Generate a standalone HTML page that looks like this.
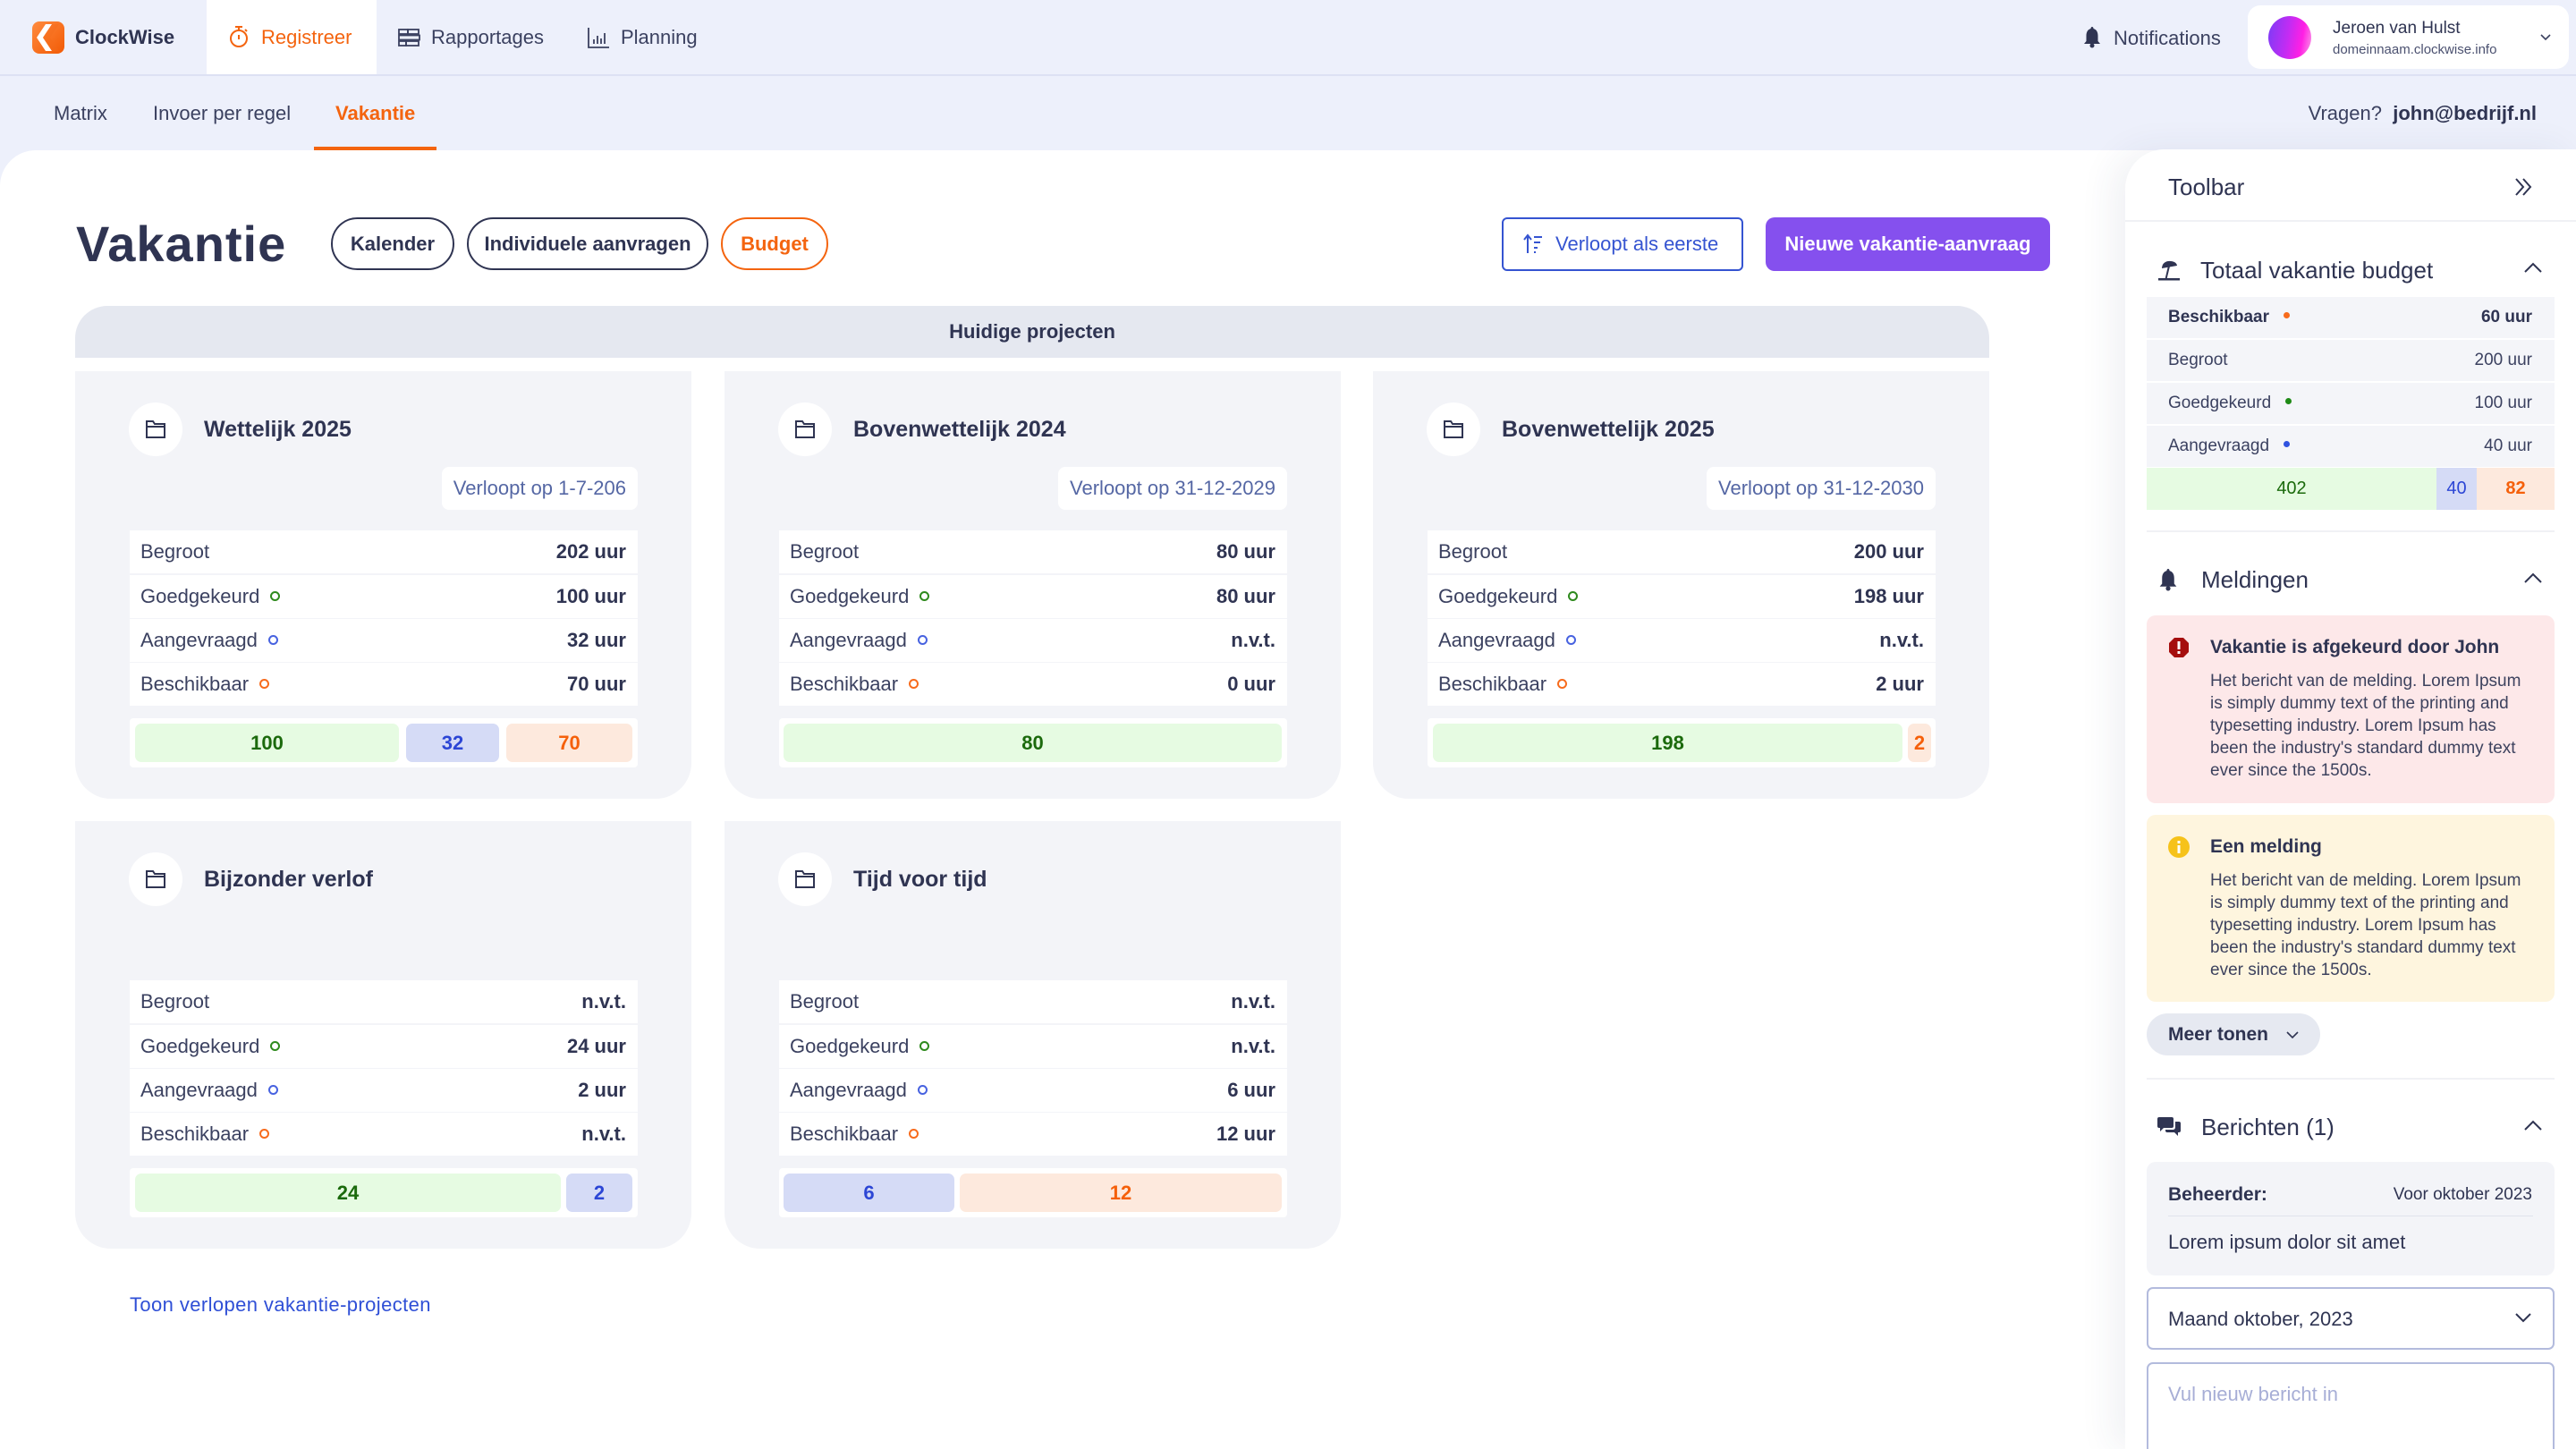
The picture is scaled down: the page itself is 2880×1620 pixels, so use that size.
<!DOCTYPE html>
<html><head><meta charset="utf-8"><style>
*{margin:0;padding:0;box-sizing:border-box}
html,body{width:2880px;height:1620px;overflow:hidden}
body{background:#edf0fb;font-family:"Liberation Sans",Arial,sans-serif;color:#2f3452;position:relative}
.a{position:absolute;white-space:nowrap}
.card{position:absolute;width:689px;height:478px;background:#f3f4f8;border-radius:0 0 40px 40px}
.circ{position:absolute;left:60px;top:35px;width:60px;height:60px;border-radius:50%;background:#fff}
.circ svg{position:absolute;left:18px;top:19px}
.ct{position:absolute;left:144px;top:48px;height:34px;line-height:34px;font-size:25px;font-weight:bold;color:#2f3452;white-space:nowrap}
.badge{position:absolute;right:60px;top:107px;height:48px;line-height:48px;padding:0 13px;background:#fff;border-radius:8px;font-size:22px;color:#5567a4;white-space:nowrap}
.r{position:absolute;left:61px;width:568px;height:48px;line-height:48px;background:#fff;padding:0 13px 0 12px;font-size:22px;color:#3b4160;white-space:nowrap}
.r b{float:right;color:#2f3452}
.ring{display:inline-block;width:11px;height:11px;border:2px solid;border-radius:50%;margin-left:12px;vertical-align:middle;position:relative;top:-2px}
.g{border-color:#2e8a1d}.bl{border-color:#4762e0}.o{border-color:#f76b1c}
.bars{position:absolute;left:61px;width:568px;top:388px;height:55px;background:#fff;border-radius:4px}
.bar{position:absolute;top:394px;height:43px;line-height:43px;border-radius:7px;text-align:center;font-size:22px;font-weight:bold}
.bg{background:#e6fbe2;color:#1b6a0c}.bb{background:#d5dbf6;color:#2c46d5}.bo{background:#fde9dd;color:#f5600a}
.tr{position:absolute;left:2400px;width:456px;height:46px;line-height:46px;background:#f4f5f9;padding:0 25px 0 24px;font-size:19px;color:#3b4160;white-space:nowrap}
.tr span.v{float:right}
.dot{display:inline-block;width:7px;height:7px;border-radius:50%;margin-left:16px;vertical-align:middle;position:relative;top:-2px}
.sep{position:absolute;height:2px;background:#f0f1f5}
.alert{position:absolute;left:2400px;width:456px;border-radius:10px}
.atitle{position:absolute;left:71px;font-size:21px;font-weight:bold;color:#2f3452;white-space:nowrap;height:30px;line-height:30px}
.abody{position:absolute;left:71px;font-size:19px;line-height:25px;color:#3d425e;white-space:nowrap}
</style></head><body>

<!-- top nav -->
<div class="a" style="left:0;top:83px;width:2880px;height:2px;background:#dde1f3"></div>
<svg class="a" style="left:36px;top:24px" width="36" height="36" viewBox="0 0 36 36">
<defs><linearGradient id="lg" x1="0" y1="0" x2="1" y2="1"><stop offset="0" stop-color="#ff8b3e"/><stop offset="1" stop-color="#f25a05"/></linearGradient></defs>
<rect width="36" height="36" rx="8" fill="url(#lg)"/>
<polygon points="15,3 22,3 12,18 22,33 15,33 5,18" fill="#fff"/>
<polygon points="22,3 30,3 20,18 30,33 22,33 12,18" fill="#f36a1a" opacity="0.35"/>
</svg>
<div class="a" style="left:84px;top:27px;height:30px;line-height:30px;font-size:22px;font-weight:bold;color:#2f3452">ClockWise</div>

<div class="a" style="left:231px;top:0;width:190px;height:83px;background:#fff"></div>
<svg class="a" style="left:256px;top:28px" width="22" height="26" viewBox="0 0 22 26">
<circle cx="11" cy="15" r="9" fill="none" stroke="#f4640f" stroke-width="2"/>
<line x1="7" y1="2" x2="15" y2="2" stroke="#f4640f" stroke-width="2"/>
<line x1="11" y1="2" x2="11" y2="6" stroke="#f4640f" stroke-width="2"/>
<line x1="11" y1="11" x2="11" y2="16" stroke="#f4640f" stroke-width="2"/>
<line x1="18" y1="5" x2="20" y2="7" stroke="#f4640f" stroke-width="2"/>
</svg>
<div class="a" style="left:292px;top:27px;height:30px;line-height:30px;font-size:22px;color:#f4640f">Registreer</div>

<svg class="a" style="left:445px;top:32px" width="25" height="20" viewBox="0 0 25 20" fill="none" stroke="#3b4160" stroke-width="1.8">
<rect x="1" y="1" width="10" height="5"/><rect x="11" y="1" width="12" height="5"/>
<rect x="1" y="7.5" width="23" height="5"/><rect x="1" y="14" width="8" height="5"/><rect x="9" y="14" width="14" height="5"/>
</svg>
<div class="a" style="left:482px;top:27px;height:30px;line-height:30px;font-size:22px;color:#3b4160">Rapportages</div>
<svg class="a" style="left:657px;top:30px" width="25" height="24" viewBox="0 0 25 24" fill="none" stroke="#3b4160" stroke-width="1.8">
<path d="M1 1 V23 H24"/><line x1="7" y1="14" x2="7" y2="19"/><line x1="11" y1="10" x2="11" y2="19"/><line x1="15" y1="13" x2="15" y2="19"/><line x1="19" y1="7" x2="19" y2="19"/>
</svg>
<div class="a" style="left:694px;top:27px;height:30px;line-height:30px;font-size:22px;color:#3b4160">Planning</div>

<svg class="a" style="left:2329px;top:29px" width="20" height="25" viewBox="0 0 20 25">
<path d="M10 1 C11 1 11.5 2 11.5 3 C15 4 16.5 7 16.5 11 V17 L19 20 H1 L3.5 17 V11 C3.5 7 5 4 8.5 3 C8.5 2 9 1 10 1Z" fill="#2f3452"/>
<circle cx="10" cy="22" r="2.5" fill="#2f3452"/>
</svg>
<div class="a" style="left:2363px;top:28px;height:30px;line-height:30px;font-size:22px;color:#3b4160">Notifications</div>

<div class="a" style="left:2513px;top:6px;width:359px;height:71px;background:#fff;border-radius:14px"></div>
<div class="a" style="left:2536px;top:18px;width:48px;height:48px;border-radius:50%;background:linear-gradient(100deg,#7a3cf6 0%,#c22cf3 45%,#ff1fe4 75%,#f7a0e6 100%)"></div>
<div class="a" style="left:2608px;top:19px;height:26px;line-height:26px;font-size:19px;color:#2f3452">Jeroen van Hulst</div>
<div class="a" style="left:2608px;top:45px;height:22px;line-height:22px;font-size:15px;color:#4b5170">domeinnaam.clockwise.info</div>
<svg class="a" style="left:2839px;top:37px" width="14" height="10" viewBox="0 0 14 10"><path d="M2 2 L7 7 L12 2" fill="none" stroke="#3b4160" stroke-width="1.6"/></svg>

<!-- sub nav -->
<div class="a" style="left:60px;top:112px;height:30px;line-height:30px;font-size:22px;color:#3b4160">Matrix</div>
<div class="a" style="left:171px;top:112px;height:30px;line-height:30px;font-size:22px;color:#3b4160">Invoer per regel</div>
<div class="a" style="left:375px;top:112px;height:30px;line-height:30px;font-size:22px;font-weight:bold;color:#f4640f">Vakantie</div>
<div class="a" style="left:351px;top:164px;width:137px;height:4px;background:#f4640f"></div>
<div class="a" style="left:2400px;top:112px;width:436px;text-align:right;height:30px;line-height:30px;font-size:22px;color:#3b4160">Vragen?&nbsp; <b style="color:#2f3452">john@bedrijf.nl</b></div>

<!-- main area -->
<div class="a" style="left:0;top:168px;width:2880px;height:1452px;background:#fff;border-top-left-radius:40px"></div>

<div class="a" style="left:85px;top:245px;height:56px;line-height:56px;font-size:56px;font-weight:bold;color:#2f3452;letter-spacing:1px">Vakantie</div>

<div class="a" style="left:370px;top:243px;width:138px;height:59px;border:2px solid #2f3452;border-radius:30px;text-align:center;line-height:55px;font-size:22px;font-weight:bold;color:#2f3452">Kalender</div>
<div class="a" style="left:522px;top:243px;width:270px;height:59px;border:2px solid #2f3452;border-radius:30px;text-align:center;line-height:55px;font-size:22px;font-weight:bold;color:#2f3452">Individuele aanvragen</div>
<div class="a" style="left:806px;top:243px;width:120px;height:59px;border:2px solid #f4640f;border-radius:30px;text-align:center;line-height:55px;font-size:22px;font-weight:bold;color:#f4640f">Budget</div>

<div class="a" style="left:1679px;top:243px;width:270px;height:60px;border:2px solid #3554d1;border-radius:6px"></div>
<svg class="a" style="left:1703px;top:261px" width="22" height="24" viewBox="0 0 22 24" fill="none" stroke="#3554d1" stroke-width="2">
<path d="M5 22 V3 M1 7 L5 2 L9 7"/><line x1="12" y1="4" x2="21" y2="4"/><line x1="12" y1="10" x2="19" y2="10"/><line x1="12" y1="16" x2="16" y2="16"/><line x1="12" y1="21" x2="14" y2="21"/>
</svg>
<div class="a" style="left:1739px;top:258px;height:30px;line-height:30px;font-size:22px;color:#3554d1">Verloopt als eerste</div>
<div class="a" style="left:1974px;top:243px;width:318px;height:60px;background:#8550ee;border-radius:10px;text-align:center;line-height:60px;font-size:22px;font-weight:bold;color:#fff">Nieuwe vakantie-aanvraag</div>

<div class="a" style="left:84px;top:342px;width:2140px;height:58px;background:#e5e8f0;border-radius:36px 36px 0 0;text-align:center;line-height:58px;font-size:22px;font-weight:bold;color:#2f3452">Huidige projecten</div>

<!-- card 1 -->
<div class="card" style="left:84px;top:415px">
<div class="circ"><svg width="24" height="22" viewBox="0 0 24 22" fill="none" stroke="#2f3452" stroke-width="2"><path d="M2 2 H9 L11 5 H22 V20 H2 Z"/><line x1="2" y1="8" x2="22" y2="8"/></svg></div>
<div class="ct">Wettelijk 2025</div>
<div class="badge">Verloopt op 1-7-206</div>
<div class="r" style="top:178px">Begroot<b>202 uur</b></div>
<div class="r" style="top:228px">Goedgekeurd<span class="ring g"></span><b>100 uur</b></div>
<div class="r" style="top:277px">Aangevraagd<span class="ring bl"></span><b>32 uur</b></div>
<div class="r" style="top:326px">Beschikbaar<span class="ring o"></span><b>70 uur</b></div>
<div class="bars"></div>
<div class="bar bg" style="left:67px;width:295px">100</div>
<div class="bar bb" style="left:370px;width:104px">32</div>
<div class="bar bo" style="left:482px;width:141px">70</div>
</div>

<!-- card 2 -->
<div class="card" style="left:810px;top:415px">
<div class="circ"><svg width="24" height="22" viewBox="0 0 24 22" fill="none" stroke="#2f3452" stroke-width="2"><path d="M2 2 H9 L11 5 H22 V20 H2 Z"/><line x1="2" y1="8" x2="22" y2="8"/></svg></div>
<div class="ct">Bovenwettelijk 2024</div>
<div class="badge">Verloopt op 31-12-2029</div>
<div class="r" style="top:178px">Begroot<b>80 uur</b></div>
<div class="r" style="top:228px">Goedgekeurd<span class="ring g"></span><b>80 uur</b></div>
<div class="r" style="top:277px">Aangevraagd<span class="ring bl"></span><b>n.v.t.</b></div>
<div class="r" style="top:326px">Beschikbaar<span class="ring o"></span><b>0 uur</b></div>
<div class="bars"></div>
<div class="bar bg" style="left:66px;width:557px">80</div>
</div>

<!-- card 3 -->
<div class="card" style="left:1535px;top:415px">
<div class="circ"><svg width="24" height="22" viewBox="0 0 24 22" fill="none" stroke="#2f3452" stroke-width="2"><path d="M2 2 H9 L11 5 H22 V20 H2 Z"/><line x1="2" y1="8" x2="22" y2="8"/></svg></div>
<div class="ct">Bovenwettelijk 2025</div>
<div class="badge">Verloopt op 31-12-2030</div>
<div class="r" style="top:178px">Begroot<b>200 uur</b></div>
<div class="r" style="top:228px">Goedgekeurd<span class="ring g"></span><b>198 uur</b></div>
<div class="r" style="top:277px">Aangevraagd<span class="ring bl"></span><b>n.v.t.</b></div>
<div class="r" style="top:326px">Beschikbaar<span class="ring o"></span><b>2 uur</b></div>
<div class="bars"></div>
<div class="bar bg" style="left:67px;width:525px">198</div>
<div class="bar bo" style="left:598px;width:26px">2</div>
</div>

<!-- card 4 -->
<div class="card" style="left:84px;top:918px">
<div class="circ"><svg width="24" height="22" viewBox="0 0 24 22" fill="none" stroke="#2f3452" stroke-width="2"><path d="M2 2 H9 L11 5 H22 V20 H2 Z"/><line x1="2" y1="8" x2="22" y2="8"/></svg></div>
<div class="ct">Bijzonder verlof</div>
<div class="r" style="top:178px">Begroot<b>n.v.t.</b></div>
<div class="r" style="top:228px">Goedgekeurd<span class="ring g"></span><b>24 uur</b></div>
<div class="r" style="top:277px">Aangevraagd<span class="ring bl"></span><b>2 uur</b></div>
<div class="r" style="top:326px">Beschikbaar<span class="ring o"></span><b>n.v.t.</b></div>
<div class="bars"></div>
<div class="bar bg" style="left:67px;width:476px">24</div>
<div class="bar bb" style="left:549px;width:74px">2</div>
</div>

<!-- card 5 -->
<div class="card" style="left:810px;top:918px">
<div class="circ"><svg width="24" height="22" viewBox="0 0 24 22" fill="none" stroke="#2f3452" stroke-width="2"><path d="M2 2 H9 L11 5 H22 V20 H2 Z"/><line x1="2" y1="8" x2="22" y2="8"/></svg></div>
<div class="ct">Tijd voor tijd</div>
<div class="r" style="top:178px">Begroot<b>n.v.t.</b></div>
<div class="r" style="top:228px">Goedgekeurd<span class="ring g"></span><b>n.v.t.</b></div>
<div class="r" style="top:277px">Aangevraagd<span class="ring bl"></span><b>6 uur</b></div>
<div class="r" style="top:326px">Beschikbaar<span class="ring o"></span><b>12 uur</b></div>
<div class="bars"></div>
<div class="bar bb" style="left:66px;width:191px">6</div>
<div class="bar bo" style="left:263px;width:360px">12</div>
</div>

<div class="a" style="left:145px;top:1444px;height:30px;line-height:30px;font-size:22px;color:#2f4fd6;letter-spacing:0.4px">Toon verlopen vakantie-projecten</div>

<!-- toolbar panel -->
<div class="a" style="left:2376px;top:167px;width:504px;height:1453px;background:#fff;border-top-left-radius:44px;box-shadow:-14px 0 40px rgba(40,50,100,0.07)"></div>
<div class="a" style="left:2424px;top:192px;height:34px;line-height:34px;font-size:26px;color:#2f3452">Toolbar</div>
<svg class="a" style="left:2810px;top:198px" width="24" height="22" viewBox="0 0 24 22" fill="none" stroke="#2f3452" stroke-width="2"><path d="M3 2 L11 11 L3 20 M11 2 L19 11 L11 20"/></svg>
<div class="sep" style="left:2376px;top:246px;width:504px"></div>

<svg class="a" style="left:2412px;top:289px" width="26" height="26" viewBox="0 0 26 26" fill="#2f3452">
<path d="M5 11 C5 4 12 1 19 4 C21 5 22 7 22 8 Z"/><path d="M12.5 6 L14.5 6.6 L10.5 23 L8.5 23 Z"/><rect x="1" y="22" width="24" height="2.5"/>
</svg>
<div class="a" style="left:2460px;top:285px;height:34px;line-height:34px;font-size:26px;color:#2f3452">Totaal vakantie budget</div>
<svg class="a" style="left:2821px;top:292px" width="22" height="14" viewBox="0 0 22 14"><path d="M2 12 L11 3 L20 12" fill="none" stroke="#2f3452" stroke-width="2"/></svg>

<div class="tr" style="top:332px;font-weight:bold;color:#2f3452">Beschikbaar<span class="dot" style="background:#f76b1c"></span><span class="v">60 uur</span></div>
<div class="tr" style="top:380px">Begroot<span class="v">200 uur</span></div>
<div class="tr" style="top:428px">Goedgekeurd<span class="dot" style="background:#1f8a16"></span><span class="v">100 uur</span></div>
<div class="tr" style="top:476px">Aangevraagd<span class="dot" style="background:#3053e0"></span><span class="v">40 uur</span></div>
<div class="a" style="left:2400px;top:523px;width:324px;height:47px;line-height:47px;background:#e6fbe2;color:#1b6a0c;text-align:center;font-size:20px">402</div>
<div class="a" style="left:2724px;top:523px;width:45px;height:47px;line-height:47px;background:#d5dbf6;color:#2c46d5;text-align:center;font-size:20px">40</div>
<div class="a" style="left:2769px;top:523px;width:87px;height:47px;line-height:47px;background:#fde9dd;color:#f5600a;text-align:center;font-size:20px;font-weight:bold">82</div>
<div class="sep" style="left:2400px;top:593px;width:456px"></div>

<svg class="a" style="left:2413px;top:635px" width="22" height="26" viewBox="0 0 20 25">
<path d="M10 1 C11 1 11.5 2 11.5 3 C15 4 16.5 7 16.5 11 V17 L19 20 H1 L3.5 17 V11 C3.5 7 5 4 8.5 3 C8.5 2 9 1 10 1Z" fill="#2f3452"/>
<circle cx="10" cy="22" r="2.5" fill="#2f3452"/>
</svg>
<div class="a" style="left:2461px;top:631px;height:34px;line-height:34px;font-size:26px;color:#2f3452">Meldingen</div>
<svg class="a" style="left:2821px;top:639px" width="22" height="14" viewBox="0 0 22 14"><path d="M2 12 L11 3 L20 12" fill="none" stroke="#2f3452" stroke-width="2"/></svg>

<div class="alert" style="top:688px;height:210px;background:#fde8e9">
<svg class="a" style="left:24px;top:24px" width="24" height="24" viewBox="0 0 24 24"><polygon points="7,1 17,1 23,7 23,17 17,23 7,23 1,17 1,7" fill="#a50e0e"/><rect x="10.5" y="5" width="3" height="9" fill="#fff"/><rect x="10.5" y="16" width="3" height="3" fill="#fff"/></svg>
<div class="atitle" style="top:21px">Vakantie is afgekeurd door John</div>
<div class="abody" style="top:61px">Het bericht van de melding. Lorem Ipsum<br>is simply dummy text of the printing and<br>typesetting industry. Lorem Ipsum has<br>been the industry's standard dummy text<br>ever since the 1500s.</div>
</div>

<div class="alert" style="top:911px;height:209px;background:#fef5de">
<svg class="a" style="left:24px;top:24px" width="24" height="24" viewBox="0 0 24 24"><circle cx="12" cy="12" r="12" fill="#f6c21a"/><rect x="10.5" y="5" width="3" height="3" fill="#fff"/><rect x="10.5" y="10" width="3" height="9" fill="#fff"/></svg>
<div class="atitle" style="top:21px">Een melding</div>
<div class="abody" style="top:61px">Het bericht van de melding. Lorem Ipsum<br>is simply dummy text of the printing and<br>typesetting industry. Lorem Ipsum has<br>been the industry's standard dummy text<br>ever since the 1500s.</div>
</div>

<div class="a" style="left:2400px;top:1133px;width:194px;height:47px;border-radius:24px;background:#e6e9f1"></div>
<div class="a" style="left:2424px;top:1142px;height:30px;line-height:30px;font-size:21px;font-weight:bold;color:#2f3452">Meer tonen</div>
<svg class="a" style="left:2555px;top:1152px" width="16" height="10" viewBox="0 0 16 10"><path d="M2 2 L8 8 L14 2" fill="none" stroke="#2f3452" stroke-width="1.6"/></svg>
<div class="sep" style="left:2400px;top:1205px;width:456px"></div>

<svg class="a" style="left:2412px;top:1248px" width="26" height="24" viewBox="0 0 26 24" fill="#2f3452">
<path d="M2 1 H16 Q18 1 18 3 V11 Q18 13 16 13 H7 L3 17 V13 H2 Q0 13 0 11 V3 Q0 1 2 1Z"/>
<path d="M20 6 H24 Q26 6 26 8 V16 Q26 18 24 18 H23 V22 L19 18 H11 Q9 18 9 16 V15 H17 Q20 15 20 12 Z"/>
</svg>
<div class="a" style="left:2461px;top:1243px;height:34px;line-height:34px;font-size:26px;color:#2f3452">Berichten (1)</div>
<svg class="a" style="left:2821px;top:1251px" width="22" height="14" viewBox="0 0 22 14"><path d="M2 12 L11 3 L20 12" fill="none" stroke="#2f3452" stroke-width="2"/></svg>

<div class="a" style="left:2400px;top:1299px;width:456px;height:127px;background:#f3f4f8;border-radius:10px"></div>
<div class="a" style="left:2424px;top:1321px;height:30px;line-height:30px;font-size:21px;font-weight:bold;color:#2f3452">Beheerder:</div>
<div class="a" style="left:2600px;top:1321px;width:231px;text-align:right;height:30px;line-height:30px;font-size:19px;color:#2f3452">Voor oktober 2023</div>
<div class="a" style="left:2424px;top:1359px;width:408px;height:1px;background:#e0e3ec"></div>
<div class="a" style="left:2424px;top:1374px;height:30px;line-height:30px;font-size:22px;color:#2f3452">Lorem ipsum dolor sit amet</div>

<div class="a" style="left:2400px;top:1439px;width:456px;height:70px;border:2px solid #b3bbdd;border-radius:7px;background:#fff"></div>
<div class="a" style="left:2424px;top:1460px;height:30px;line-height:30px;font-size:22px;color:#2f3452">Maand oktober, 2023</div>
<svg class="a" style="left:2811px;top:1467px" width="20" height="13" viewBox="0 0 20 13"><path d="M2 2 L10 10 L18 2" fill="none" stroke="#2f3452" stroke-width="2"/></svg>

<div class="a" style="left:2400px;top:1523px;width:456px;height:130px;border:2px solid #b3bbdd;border-radius:7px;background:#fff"></div>
<div class="a" style="left:2424px;top:1544px;height:30px;line-height:30px;font-size:22px;color:#a7aed6">Vul nieuw bericht in</div>

</body></html>
